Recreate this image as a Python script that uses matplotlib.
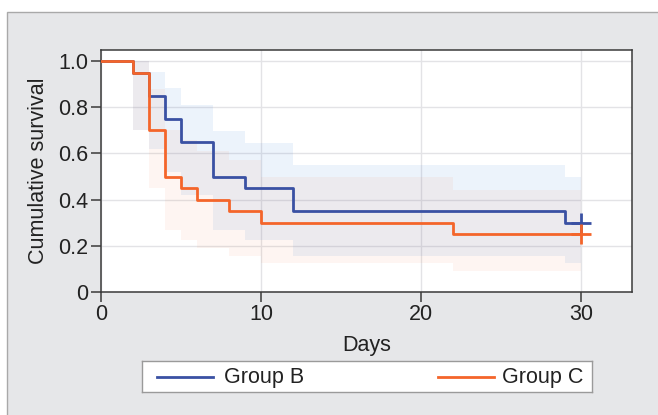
import matplotlib
matplotlib.use("Agg")
import matplotlib.pyplot as plt
from matplotlib.patches import Rectangle
from matplotlib.lines import Line2D

plt.rcParams['font.family'] = ['Liberation Sans', 'DejaVu Sans']

# Data
days_b = [0, 2, 3, 4, 5, 7, 9, 12, 29, 30]
surv_b = [1.0, 0.95, 0.85, 0.75, 0.65, 0.50, 0.45, 0.35, 0.30, 0.30]
upper_b = [1.0, 1.0, 0.954, 0.884, 0.81, 0.697, 0.645, 0.55, 0.50, 0.50]
lower_b = [1.0, 0.70, 0.62, 0.52, 0.42, 0.27, 0.225, 0.155, 0.125, 0.125]

days_c = [0, 2, 3, 4, 5, 6, 8, 10, 22, 30]
surv_c = [1.0, 0.95, 0.70, 0.50, 0.45, 0.40, 0.35, 0.30, 0.25, 0.25]
upper_c = [1.0, 1.0, 0.88, 0.70, 0.66, 0.61, 0.57, 0.50, 0.44, 0.44]
lower_c = [1.0, 0.70, 0.45, 0.27, 0.225, 0.19, 0.155, 0.125, 0.09, 0.09]

censor_day = 30
labels = ["Group B", "Group C"]
xticks = [0, 10, 20, 30]
yticks = [0, 0.2, 0.4, 0.6, 0.8, 1.0]
yticklabels = ["0", "0.2", "0.4", "0.6", "0.8", "1.0"]

blue = '#3a51a3'
orange = '#f4652a'
FS = 15.5

fig = plt.figure(figsize=(6.58, 4.15), dpi=100)
fig.patch.set_facecolor('white')

# background panel
bg = fig.add_axes([0, 0, 1, 1], zorder=-5)
bg.set_xlim(0, 658)
bg.set_ylim(415, 0)
bg.axis('off')
bg.add_patch(Rectangle((7, 12), 660, 410, facecolor='#e6e7e9',
                       edgecolor='#a9a9a9', linewidth=1.0))

ax = fig.add_axes([101 / 658, 1 - 292 / 415, (632 - 101) / 658, (292 - 50) / 415], zorder=1)
ax.set_facecolor('white')

ax.fill_between(days_b, lower_b, upper_b, step='post', color='#4a8ad8',
                alpha=0.10, linewidth=0, zorder=1)
ax.fill_between(days_c, lower_c, upper_c, step='post', color='#f4652a',
                alpha=0.06, linewidth=0, zorder=1)

ax.step(days_b, surv_b, where='post', color=blue, linewidth=2.0, zorder=3)
ax.step(days_c, surv_c, where='post', color=orange, linewidth=2.0, zorder=3)
ax.plot([censor_day], [surv_b[-1]], marker='+', color=blue, markersize=14,
        markeredgewidth=2.0, zorder=4)
ax.plot([censor_day], [surv_c[-1]], marker='+', color=orange, markersize=14,
        markeredgewidth=2.0, zorder=4)

ax.set_xlim(0, 33.2)
ax.set_ylim(0, 1.048)
ax.set_xticks(xticks)
ax.set_yticks(yticks)
ax.set_yticklabels(yticklabels)
ax.grid(True, color='#e3e3e6', linewidth=1.0, zorder=0)
ax.set_axisbelow(True)
for s in ax.spines.values():
    s.set_color('#3a3a3a')
    s.set_linewidth(1.1)
ax.tick_params(direction='out', length=7, width=1.1, color='#3a3a3a',
               labelsize=FS, labelcolor='#222222', pad=2)
ax.set_xlabel('Days', fontsize=FS, color='#222222', labelpad=7)
ax.set_ylabel('Cumulative survival', fontsize=FS, color='#222222', labelpad=7)

# Legend box
lax = fig.add_axes([142 / 658, 1 - 392 / 415, (592 - 142) / 658, (392 - 361) / 415], zorder=1)
lax.set_xlim(142, 592)
lax.set_ylim(0, 1)
lax.set_xticks([])
lax.set_yticks([])
lax.set_facecolor('white')
for s in lax.spines.values():
    s.set_color('#9a9a9a')
    s.set_linewidth(1.0)
lax.add_line(Line2D([157, 213], [0.5, 0.5], color=blue, linewidth=2.0))
lax.text(224, 0.48, labels[0], fontsize=FS, va='center', ha='left', color='#222222')
lax.add_line(Line2D([438, 494], [0.5, 0.5], color=orange, linewidth=2.0))
lax.text(502, 0.48, labels[1], fontsize=FS, va='center', ha='left', color='#222222')

fig.savefig('out.png', dpi=100, facecolor=fig.get_facecolor())
